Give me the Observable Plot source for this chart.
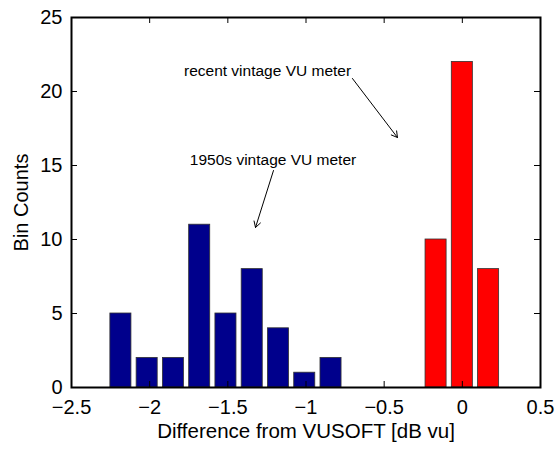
<!DOCTYPE html>
<html>
<head>
<meta charset="utf-8">
<script src="https://cdn.jsdelivr.net/npm/d3@7"></script>
<script src="https://cdn.jsdelivr.net/npm/@observablehq/plot@0.6"></script>
<style>
  html, body { margin: 0; padding: 0; background: #fff; }
  svg { display: block; }
  svg text { font-family: "Liberation Sans", Arial, Helvetica, sans-serif; }
  g[aria-label="x-axis tick label"], g[aria-label="y-axis tick label"] { font-size: 20px; }
  g[aria-label="x-axis label"] { font-size: 20.5px; }
  g[aria-label="y-axis label"] { font-size: 20px; }
</style>
</head>
<body>
<div id="chart"></div>
<script>
// Bin centers (dB vu) and counts
const oldCenters = [-2.184, -2.016, -1.848, -1.680, -1.512, -1.344, -1.176, -1.008, -0.840];
const oldCounts  = [5, 2, 2, 11, 5, 8, 4, 1, 2];
const newCenters = [-0.168, 0.0, 0.168];
const newCounts  = [10, 22, 8];
const binWidth = 0.168;

const xTicks = [-2.5, -2, -1.5, -1, -0.5, 0, 0.5];
const yTicks = [0, 5, 10, 15, 20, 25];

// Annotations (data coordinates)
const noteLabels = ["recent vintage VU meter", "1950s vintage VU meter"];
const noteX = [-1.246, -1.211];
const noteY = [21.35, 15.4];
const arrowX1 = [-0.703, -1.208];
const arrowY1 = [20.88, 14.66];
const arrowX2 = [-0.415, -1.323];
const arrowY2 = [16.89, 10.81];

const bars = [
  ...oldCenters.map((c, i) => ({c, n: oldCounts[i], g: "old"})),
  ...newCenters.map((c, i) => ({c, n: newCounts[i], g: "new"}))
];
const notes = noteLabels.map((t, i) => ({t, x: noteX[i], y: noteY[i]}));
const arrows = arrowX1.map((x1, i) => ({x1, y1: arrowY1[i], x2: arrowX2[i], y2: arrowY2[i]}));

const fmt = d => String(d).replace("-", "\u2212");

const W = 557, H = 449;
const mL = 71, mR = 17, mT = 17, mB = 62;
const innerH = H - mT - mB;
const innerW = W - mL - mR;
const tick = 6;

const chart = Plot.plot({
  width: W,
  height: H,
  marginLeft: mL,
  marginRight: mR,
  marginTop: mT,
  marginBottom: mB,
  style: {fontFamily: "'Liberation Sans', Arial, Helvetica, sans-serif", color: "#000", background: "#fff"},
  x: {domain: [-2.5, 0.5], label: null},
  y: {domain: [0, 25], label: null},
  marks: [
    Plot.rectY(bars, {
      x1: d => d.c - binWidth / 2,
      x2: d => d.c + binWidth / 2,
      y1: 0,
      y2: d => d.n,
      insetLeft: 2.6,
      insetRight: 2.6,
      fill: d => d.g === "old" ? "#00008c" : "#ff0000",
      stroke: "#333",
      strokeWidth: 0.8
    }),
    // inward ticks: bottom, top
    Plot.tickX(xTicks, {x: d => d, insetTop: innerH - tick, stroke: "#000", strokeWidth: 1}),
    Plot.tickX(xTicks, {x: d => d, insetBottom: innerH - tick, stroke: "#000", strokeWidth: 1}),
    // inward ticks: left, right
    Plot.tickY(yTicks, {y: d => d, insetRight: innerW - tick, stroke: "#000", strokeWidth: 1}),
    Plot.tickY(yTicks, {y: d => d, insetLeft: innerW - tick, stroke: "#000", strokeWidth: 1}),
    Plot.axisX({ticks: xTicks, tickSize: 0, tickPadding: 12, tickFormat: fmt,
      label: "Difference from VUSOFT [dB vu]", labelAnchor: "center", labelArrow: "none", labelOffset: 50}),
    Plot.axisY({ticks: yTicks, tickSize: 0, tickPadding: 9, tickFormat: fmt,
      label: "Bin Counts", labelAnchor: "center", labelArrow: "none", labelOffset: 58}),
    Plot.frame({stroke: "#000", strokeWidth: 2}),
    Plot.arrow(arrows, {x1: "x1", y1: "y1", x2: "x2", y2: "y2", stroke: "#000", strokeWidth: 1, headLength: 10, bend: 0}),
    Plot.text(notes, {x: "x", y: "y", text: "t", fill: "#000", fontSize: 15.5})
  ]
});

document.getElementById("chart").appendChild(chart);
</script>
</body>
</html>
